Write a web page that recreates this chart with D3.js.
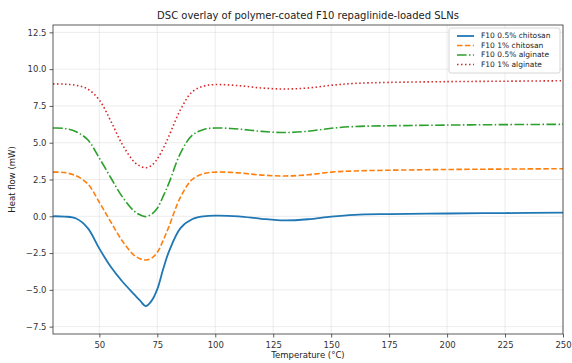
<!DOCTYPE html>
<html>
<head>
<meta charset="utf-8">
<script src="https://cdn.jsdelivr.net/npm/d3@7"></script>
<style>
  body { margin: 0; background: #fff; }
  svg { font-family: "DejaVu Sans", sans-serif; }
</style>
</head>
<body>
<div id="viz"></div>
<script>
const width = 572;
const height = 363;
const margin = {top: 25, right: 9, bottom: 29, left: 53};

// Temperature grid (°C) and heat flow (mW)
const temps = [30, 35, 40, 45, 50, 55, 60, 65, 67.5, 70, 72.5, 75, 77.5, 80, 85, 90, 95, 100,
  110, 120, 130, 140, 150, 160, 175, 200, 225, 250];
const chitosan05 = [0.0, -0.02, -0.15, -0.8, -2.2, -3.45, -4.45, -5.3, -5.72, -6.1, -5.75, -4.95, -3.6, -2.4, -0.8, -0.2, 0.0, 0.05,
  0.0, -0.17, -0.28, -0.2, -0.02, 0.1, 0.15, 0.19, 0.22, 0.25];
const chitosan1 = [3.0, 2.97, 2.75, 2.2, 0.95, -0.4, -1.7, -2.65, -2.88, -2.97, -2.85, -2.45, -1.65, -0.7, 1.3, 2.5, 2.9, 3.0,
  2.95, 2.8, 2.74, 2.82, 3.0, 3.08, 3.13, 3.18, 3.21, 3.23];
const alginate05 = [6.0, 5.97, 5.75, 5.2, 3.95, 2.6, 1.3, 0.35, 0.1, -0.02, 0.15, 0.55, 1.35, 2.25, 4.3, 5.5, 5.9, 6.0,
  5.93, 5.77, 5.69, 5.78, 5.98, 6.1, 6.15, 6.2, 6.23, 6.25];
const alginate1 = [9.0, 8.98, 8.9, 8.65, 7.9, 6.45, 4.85, 3.7, 3.42, 3.3, 3.45, 3.9, 4.6, 5.45, 7.25, 8.45, 8.85, 8.95,
  8.88, 8.72, 8.65, 8.72, 8.9, 9.03, 9.1, 9.15, 9.18, 9.21];

const seriesNames = ['F10 0.5% chitosan', 'F10 1% chitosan', 'F10 0.5% alginate', 'F10 1% alginate'];
const seriesColors = ['#1f77b4', '#ff7f0e', '#2ca02c', '#d62728'];
const seriesDash = ['none', '5.5,2.4', '9.6,2.4,1.5,2.4', '1.5,2.5'];
const xTicks = [50, 75, 100, 125, 150, 175, 200, 225, 250];
const yTicks = [-7.5, -5.0, -2.5, 0.0, 2.5, 5.0, 7.5, 10.0, 12.5];

const allSeries = [chitosan05, chitosan1, alginate05, alginate1].map((vals, i) => ({
  name: seriesNames[i],
  color: seriesColors[i],
  dash: seriesDash[i],
  values: temps.map((t, j) => ({t: t, v: vals[j]}))
}));

const scaleX = d3.scaleLinear()
  .domain([30, 250])
  .range([margin.left, width - margin.right]);
const scaleY = d3.scaleLinear()
  .domain([-8, 13])
  .range([height - margin.bottom, margin.top]);

const svg = d3.select('#viz')
  .append('svg')
    .attr('width', width)
    .attr('height', height);

// grid
svg.append('g')
  .selectAll('line')
  .data(xTicks)
  .join('line')
    .attr('x1', d => scaleX(d)).attr('x2', d => scaleX(d))
    .attr('y1', margin.top).attr('y2', height - margin.bottom)
    .attr('stroke', '#b0b0b0').attr('stroke-opacity', 0.3).attr('stroke-width', 0.8);
svg.append('g')
  .selectAll('line')
  .data(yTicks)
  .join('line')
    .attr('x1', margin.left).attr('x2', width - margin.right)
    .attr('y1', d => scaleY(d)).attr('y2', d => scaleY(d))
    .attr('stroke', '#b0b0b0').attr('stroke-opacity', 0.3).attr('stroke-width', 0.8);

// lines
const line = d3.line()
  .x(d => scaleX(d.t))
  .y(d => scaleY(d.v))
  .curve(d3.curveCatmullRom);

svg.append('g')
  .selectAll('path')
  .data(allSeries)
  .join('path')
    .attr('d', d => line(d.values))
    .attr('fill', 'none')
    .attr('stroke', d => d.color)
    .attr('stroke-width', (d, i) => i === 0 ? 1.8 : 1.6)
    .attr('stroke-dasharray', d => d.dash);

// axes
const axisBottom = d3.axisBottom(scaleX)
  .tickValues(xTicks)
  .tickSize(3.5)
  .tickSizeOuter(0);
svg.append('g')
  .attr('transform', `translate(0,${height - margin.bottom})`)
  .call(axisBottom)
  .call(g => g.select('.domain').remove())
  .call(g => g.selectAll('line').attr('stroke', '#333').attr('stroke-width', 0.8))
  .call(g => g.selectAll('text').attr('fill', '#333').attr('dy', '0.9em')
    .style('font-family', '"DejaVu Sans", sans-serif').style('font-size', '8.5px'));

const axisLeft = d3.axisLeft(scaleY)
  .tickValues(yTicks)
  .tickFormat(d3.format('.1f'))
  .tickSize(3.5)
  .tickSizeOuter(0);
svg.append('g')
  .attr('transform', `translate(${margin.left},0)`)
  .call(axisLeft)
  .call(g => g.select('.domain').remove())
  .call(g => g.selectAll('line').attr('stroke', '#333').attr('stroke-width', 0.8))
  .call(g => g.selectAll('text').attr('fill', '#333').text(d => d3.format('.1f')(d).replace('-', '\u2212'))
    .style('font-family', '"DejaVu Sans", sans-serif').style('font-size', '8.5px'));

// frame
svg.append('rect')
  .attr('x', margin.left).attr('y', margin.top)
  .attr('width', width - margin.left - margin.right)
  .attr('height', height - margin.top - margin.bottom)
  .attr('fill', 'none').attr('stroke', '#333').attr('stroke-width', 0.8);

// title and labels
svg.append('text')
  .attr('x', (margin.left + width - margin.right) / 2)
  .attr('y', 19)
  .attr('text-anchor', 'middle')
  .attr('fill', '#222')
  .style('font-size', '10px')
  .text('DSC overlay of polymer-coated F10 repaglinide-loaded SLNs');
svg.append('text')
  .attr('x', (margin.left + width - margin.right) / 2)
  .attr('y', 358)
  .attr('text-anchor', 'middle')
  .attr('fill', '#222')
  .style('font-size', '8.5px')
  .text('Temperature (°C)');
svg.append('text')
  .attr('transform', `translate(15,${(margin.top + height - margin.bottom) / 2}) rotate(-90)`)
  .attr('text-anchor', 'middle')
  .attr('fill', '#222')
  .style('font-size', '8.5px')
  .text('Heat flow (mW)');

// legend
const legendX = 449, legendY = 28, rowH = 9.5;
const legend = svg.append('g');
legend.append('rect')
  .attr('x', legendX).attr('y', legendY)
  .attr('width', width - margin.right - 3 - legendX)
  .attr('height', rowH * seriesNames.length + 7)
  .attr('rx', 2)
  .attr('fill', '#fff').attr('fill-opacity', 0.8)
  .attr('stroke', '#ccc').attr('stroke-width', 0.8);
const rows = legend.selectAll('g.row')
  .data(allSeries)
  .join('g')
    .attr('class', 'row')
    .attr('transform', (d, i) => `translate(${legendX + 8},${legendY + 8 + i * rowH})`);
rows.append('line')
  .attr('x1', 0).attr('x2', 17)
  .attr('stroke', d => d.color)
  .attr('stroke-width', (d, i) => i === 0 ? 1.8 : 1.6)
  .attr('stroke-dasharray', d => d.dash);
rows.append('text')
  .attr('x', 24)
  .attr('dy', '0.33em')
  .attr('fill', '#222')
  .style('font-size', '7.5px')
  .text(d => d.name);
</script>
</body>
</html>
